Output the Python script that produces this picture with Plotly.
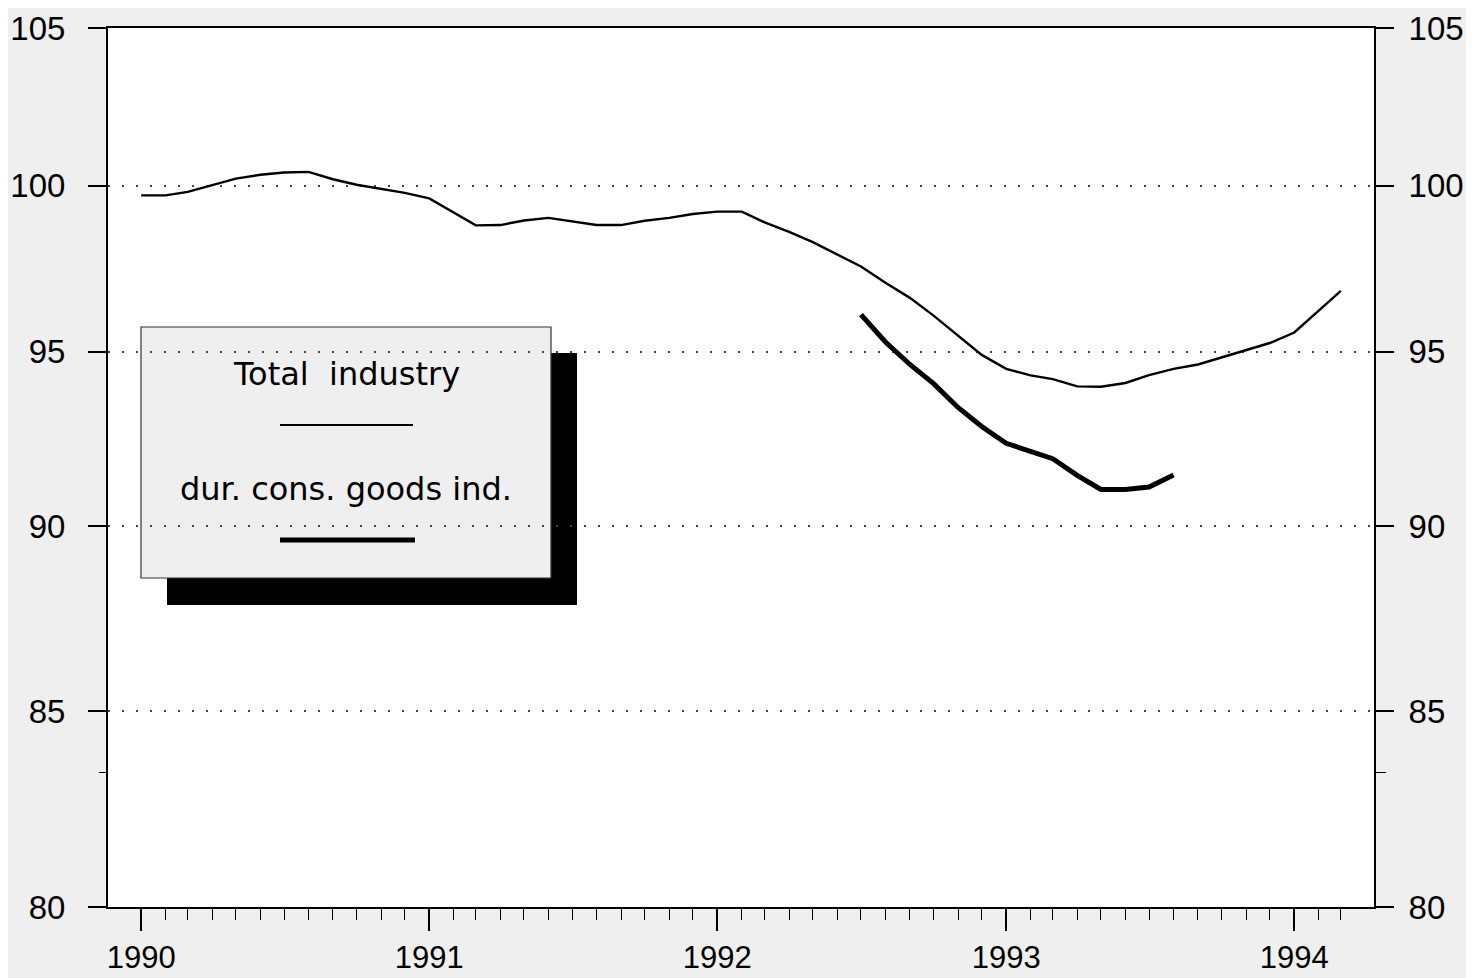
import math
import pandas as pd
import plotly.graph_objects as go

# ---- data (monthly index values) ----
total_start = "1990-01-01"
total_industry = [99.70, 99.70, 99.81, 100.03, 100.22, 100.34, 100.41, 100.43, 100.20, 100.03, 99.91, 99.78,
                  99.61, 99.16, 98.78, 98.79, 98.93, 99.01, 98.91, 98.79, 98.79, 98.92, 99.01, 99.13,
                  99.20, 99.20, 98.87, 98.58, 98.27, 97.90, 97.53, 97.04, 96.59, 96.06, 95.48, 94.90,
                  94.49, 94.30, 94.19, 93.98, 93.97, 94.08, 94.31, 94.49, 94.62, 94.82, 95.03, 95.25,
                  95.56, 96.21, 96.80]
durable_start = "1992-07-01"
durable_goods = [96.09, 95.28, 94.62, 94.06, 93.37, 92.82, 92.34, 92.10, 91.90, 91.43, 91.03, 91.03,
                 91.10, 91.44]

year_ticks = ["1990", "1991", "1992", "1993", "1994"]
y_ticks = [80, 85, 90, 95, 100, 105]
legend_labels = ["Total\u00a0 industry", "dur. cons. goods ind."]

x_total = pd.date_range(total_start, periods=len(total_industry), freq="MS")
x_dur = pd.date_range(durable_start, periods=len(durable_goods), freq="MS")
minor_months = pd.date_range("1990-01-01", "1994-03-01", freq="MS")

fig = go.Figure()
fig.add_trace(go.Scatter(x=x_total, y=total_industry, mode="lines", name="Total industry",
                         line=dict(color="black", width=2.4), showlegend=False))
fig.add_trace(go.Scatter(x=x_dur, y=durable_goods, mode="lines", name="dur. cons. goods ind.",
                         line=dict(color="black", width=5), showlegend=False))
# invisible copy on the right-hand axis so it is drawn
fig.add_trace(go.Scatter(x=x_total, y=total_industry, mode="lines", yaxis="y2",
                         line=dict(color="rgba(0,0,0,0)", width=0), hoverinfo="skip",
                         showlegend=False))

tickfont = dict(family="Liberation Sans, Arial, sans-serif", size=33, color="black")
xtickfont = dict(family="Liberation Sans, Arial, sans-serif", size=31, color="black")
yr = [math.log10(80), math.log10(105)]

FW, FH = 1466, 970
ML, MR, MT, MB = 100, 100, 20, 71

fig.update_layout(
    width=FW, height=FH,
    margin=dict(l=ML, r=MR, t=MT, b=MB, autoexpand=False),
    paper_bgcolor="#efefef",
    plot_bgcolor="#ffffff",
    xaxis=dict(
        type="date", automargin=False,
        range=["1989-11-20", "1994-04-12"],
        tickmode="array",
        tickvals=[f"{y}-01-01" for y in year_ticks],
        ticktext=year_ticks,
        ticks="outside", ticklen=22, tickwidth=1.5, tickcolor="black",
        minor=dict(tickmode="array", tickvals=list(minor_months), ticks="outside",
                   ticklen=11, tickwidth=1, tickcolor="black", showgrid=False),
        showline=True, linecolor="black", linewidth=2, mirror=True,
        showgrid=False, zeroline=False,
        tickfont=xtickfont, ticklabelstandoff=0,
    ),
    yaxis=dict(
        type="log", range=yr, automargin=False,
        tickmode="array", tickvals=y_ticks, ticktext=[str(v) for v in y_ticks],
        ticks="outside", ticklen=18, tickwidth=2, tickcolor="black",
        minor=dict(tickmode="array", tickvals=[83.4], ticks="outside", ticklen=7,
                   tickwidth=1, tickcolor="black", showgrid=False),
        showline=True, linecolor="black", linewidth=2,
        showgrid=True, gridcolor="#444444", gridwidth=1.5, griddash="2px,12px",
        zeroline=False, tickfont=tickfont, ticklabelstandoff=16,
    ),
    yaxis2=dict(
        type="log", range=yr, overlaying="y", side="right", automargin=False,
        tickmode="array", tickvals=y_ticks, ticktext=[str(v) for v in y_ticks],
        ticks="outside", ticklen=18, tickwidth=2, tickcolor="black",
        minor=dict(tickmode="array", tickvals=[83.4], ticks="outside", ticklen=10,
                   tickwidth=1, tickcolor="black", showgrid=False),
        showline=True, linecolor="black", linewidth=2,
        showgrid=False, zeroline=False, tickfont=tickfont, ticklabelstandoff=8,
    ),
)

# ---- custom legend box with drop shadow (paper coords; page pixel positions) ----
OFF = 8  # page offset of the figure (body margin)
W, H = FW - ML - MR, FH - MT - MB
L, B = ML + OFF, MT + OFF + H
def px(x):
    return (x - L) / W
def py(y):
    return (B - y) / H

fig.add_shape(type="rect", xref="paper", yref="paper", layer="below",
              x0=px(167), x1=px(577), y0=py(605), y1=py(353),
              fillcolor="black", line=dict(width=0))
fig.add_shape(type="rect", xref="paper", yref="paper", layer="below",
              x0=px(141), x1=px(551), y0=py(578), y1=py(327),
              fillcolor="#efefef", line=dict(color="#333333", width=1.2))
fig.add_shape(type="line", xref="paper", yref="paper", layer="above",
              x0=px(280), x1=px(413), y0=py(425), y1=py(425),
              line=dict(color="black", width=2))
fig.add_shape(type="line", xref="paper", yref="paper", layer="above",
              x0=px(280), x1=px(415), y0=py(540), y1=py(540),
              line=dict(color="black", width=5))

legfont = dict(family="DejaVu Sans, Verdana, sans-serif", size=32, color="black")
fig.add_annotation(xref="paper", yref="paper", x=px(346), y=py(374), text=legend_labels[0],
                   showarrow=False, font=legfont, xanchor="center", yanchor="middle")
fig.add_annotation(xref="paper", yref="paper", x=px(346), y=py(489), text=legend_labels[1],
                   showarrow=False, font=legfont, xanchor="center", yanchor="middle")

fig.write_html("out.html")
